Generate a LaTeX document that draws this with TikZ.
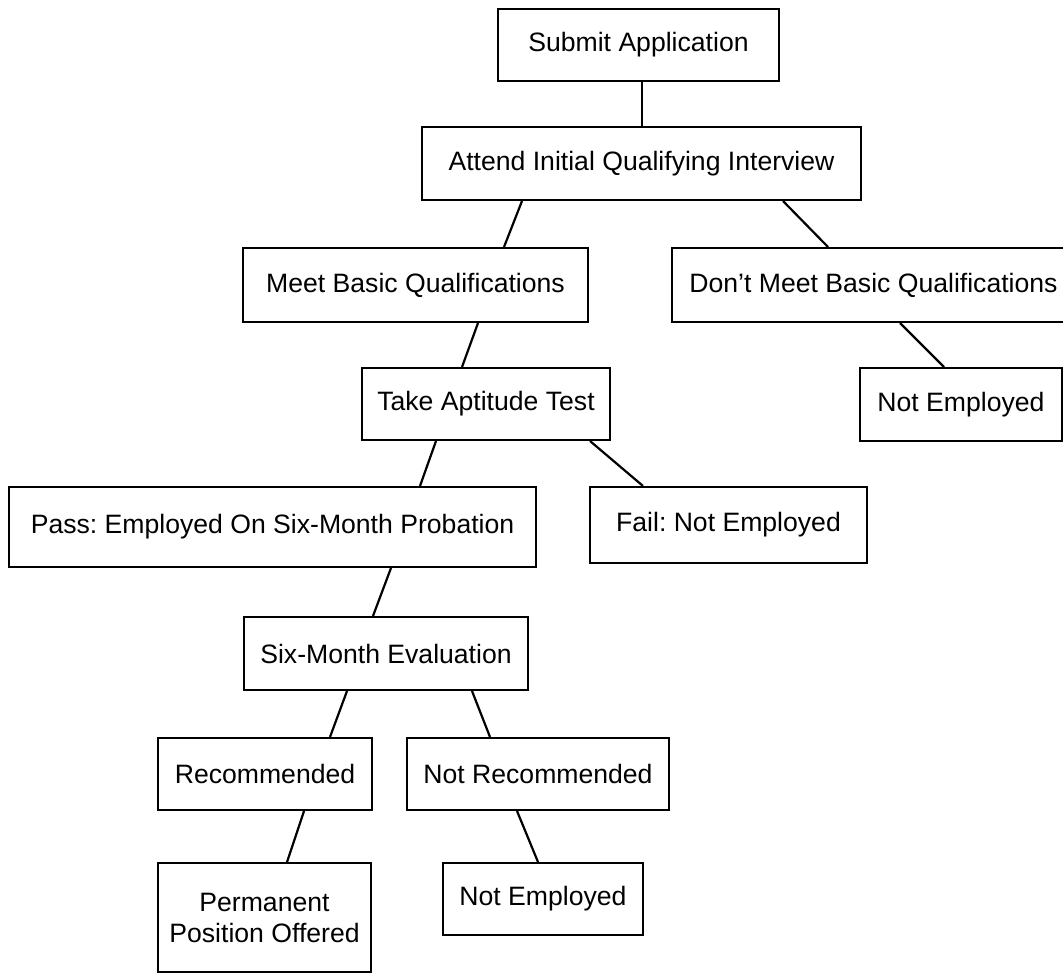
\documentclass[tikz,border=0pt]{standalone}
\usepackage{fontspec}
\setmainfont{Liberation Sans}
\usetikzlibrary{calc}
\frenchspacing
\begin{document}
\begin{tikzpicture}[x=0.5pt,y=-0.5pt,
  box/.style={draw=black,line width=1pt,fill=white,inner sep=0pt,align=center,
    font=\fontsize{13.3pt}{15.5pt}\selectfont},
  link/.style={draw=black,line width=1.1pt}]
\clip (0,0) rectangle (1063,974);
\fill[white] (0,0) rectangle (1063,974);

% boxes: centre, then width and height in px
\node[box,minimum width=140.5pt,minimum height=36pt]   (submit) at (638.5,45)   {Submit Application};
\node[box,minimum width=219.5pt,minimum height=36.5pt] (attend) at (641.5,163.5){Attend Initial Qualifying Interview};
\node[box,minimum width=172.5pt,minimum height=37pt]   (meet)   at (415.5,285)  {Meet Basic Qualifications};
\node[box,minimum width=201.5pt,minimum height=37pt]   (dont)   at (873.5,285)  {Don’t Meet Basic Qualifications};
\node[box,minimum width=101pt,minimum height=36.5pt]   (ne1)    at (961,404.5)  {Not Employed};
\node[box,minimum width=124pt,minimum height=36pt]     (take)   at (486,404)    {Take Aptitude Test};
\node[box,minimum width=263.5pt,minimum height=40pt]   (pass)   at (272.5,527)  {Pass: Employed On Six-Month Probation};
\node[box,minimum width=138.5pt,minimum height=38pt]   (fail)   at (728.5,525)  {Fail: Not Employed};
\node[box,minimum width=142pt,minimum height=36.5pt]   (six)    at (386,653.5)  {Six-Month Evaluation};
\node[box,minimum width=107pt,minimum height=36pt]     (rec)    at (265,774)    {Recommended};
\node[box,minimum width=131pt,minimum height=36pt]     (notrec) at (538,774)    {Not Recommended};
\node[box,minimum width=106.5pt,minimum height=54.5pt] (perm)   at (264.5,917.5){Permanent\\Position Offered};
\node[box,minimum width=100pt,minimum height=36pt]     (ne2)    at (543,899)    {Not Employed};

% connectors between box edges
\draw[link] ($(submit.south)+(3.5,0)$)   -- ($(attend.north)+(0.5,0)$);
\draw[link] ($(attend.south)+(-119.5,0)$) -- ($(meet.north)+(88.5,0)$);
\draw[link] ($(attend.south)+(141.5,0)$)  -- ($(dont.north)+(-45.5,0)$);
\draw[link] ($(meet.south)+(62.5,0)$)     -- ($(take.north)+(-24,0)$);
\draw[link] ($(dont.south)+(26.5,0)$)     -- ($(ne1.north)+(-17,0)$);
\draw[link] ($(take.south)+(-50,0)$)      -- ($(pass.north)+(147.5,0)$);
\draw[link] ($(take.south)+(104,0)$)      -- ($(fail.north)+(-85.5,0)$);
\draw[link] ($(pass.south)+(118.5,0)$)    -- ($(six.north)+(-13,0)$);
\draw[link] ($(six.south)+(-39,0)$)       -- ($(rec.north)+(65,0)$);
\draw[link] ($(six.south)+(86,0)$)        -- ($(notrec.north)+(-48,0)$);
\draw[link] ($(rec.south)+(39,0)$)        -- ($(perm.north)+(22.5,0)$);
\draw[link] ($(notrec.south)+(-21,0)$)    -- ($(ne2.north)+(-5,0)$);
\end{tikzpicture}
\end{document}
